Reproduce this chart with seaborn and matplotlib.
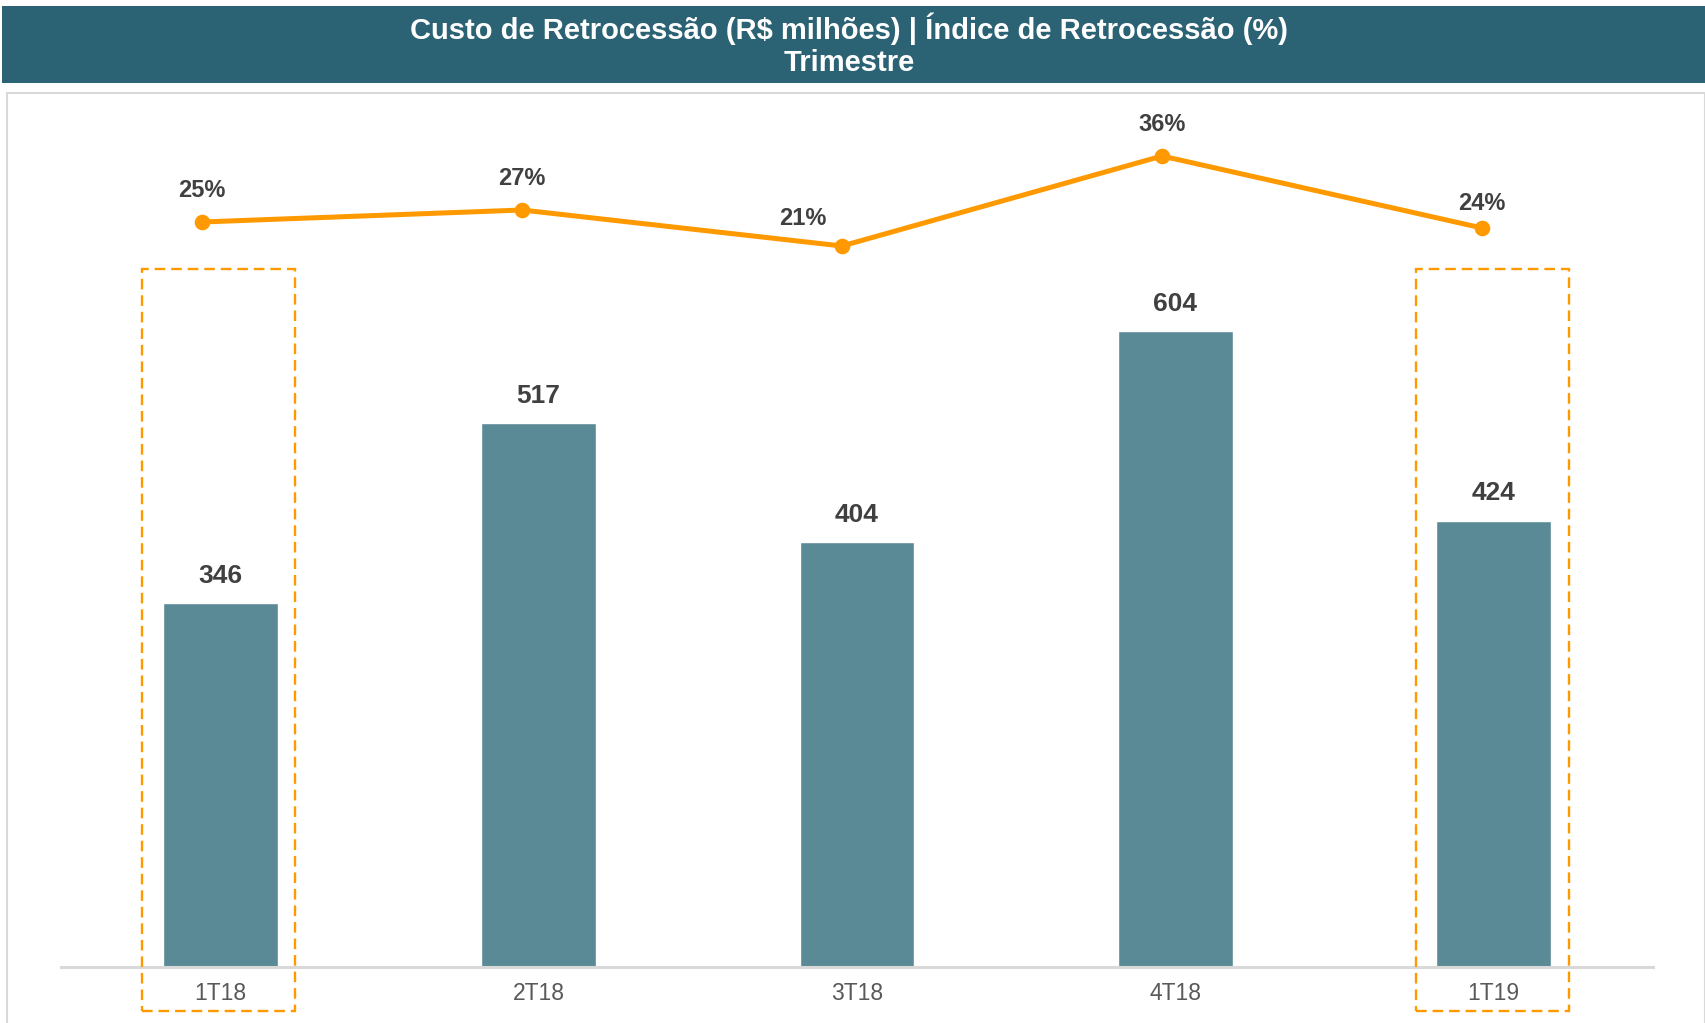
import matplotlib
matplotlib.use("Agg")
import matplotlib.pyplot as plt
import seaborn as sns
from matplotlib.patches import Rectangle
from matplotlib.transforms import blended_transform_factory

# data
quarters = ["1T18", "2T18", "3T18", "4T18", "1T19"]
custo = [346, 517, 404, 604, 424]          # R$ milhões
indice = [25, 27, 21, 36, 24]              # %
highlighted = ["1T18", "1T19"]

title_lines = ["Custo de Retrocessão (R$ milhões) | Índice de Retrocessão (%)", "Trimestre"]

BAR = "#5A8A95"
ORANGE = "#FF9900"
HEADER = "#2B6375"
GRID = "#D9D9D9"
TXT = "#404040"

sns.set_theme(style="white")
plt.rcParams["font.family"] = ["Liberation Sans", "DejaVu Sans"]

W, H = 1706, 1023
fig = plt.figure(figsize=(W / 100, H / 100), dpi=100)


def fx(px):
    return px / W


def fy(py):
    return 1 - py / H


# header band and panel border
fig.patches.append(Rectangle((fx(2), fy(83)), 1, fy(6) - fy(83), transform=fig.transFigure,
                             facecolor=HEADER, edgecolor="none", zorder=0))
fig.patches.append(Rectangle((fx(7), fy(1030)), fx(1705) - fx(7), fy(93) - fy(1030),
                             transform=fig.transFigure, facecolor="none", edgecolor=GRID,
                             linewidth=1.5, zorder=0))
fig.text(fx(849), fy(29), title_lines[0], ha="center", va="center", color="white",
         fontsize=21, fontweight="bold")
fig.text(fx(849), fy(63), title_lines[1], ha="center", va="center", color="white",
         fontsize=21, fontweight="bold")

# bars
ax = fig.add_axes([fx(61), fy(967), fx(1653) - fx(61), fy(100) - fy(967)])
sns.barplot(x=quarters, y=custo, color=BAR, width=0.36, saturation=1, ax=ax)
ax.set_xlim(-0.5, len(quarters) - 0.5)
ax.set_ylim(0, (967 - 100) / 1.053)
ax.set_yticks([])
ax.set_xlabel("")
ax.set_ylabel("")
for s in ["top", "left", "right"]:
    ax.spines[s].set_visible(False)
ax.spines["bottom"].set_color(GRID)
ax.spines["bottom"].set_linewidth(2.2)
ax.tick_params(axis="x", length=0, pad=11, labelsize=16.5, labelcolor="#595959")
ax.patch.set_alpha(0)

for i, v in enumerate(custo):
    ax.annotate(f"{v}", (i, v), xytext=(0, 19.5), textcoords="offset points",
                ha="center", va="center", fontsize=19, fontweight="bold", color=TXT)

# dashed highlight boxes
trans = blended_transform_factory(ax.transData, fig.transFigure)
for q in highlighted:
    i = quarters.index(q)
    box = Rectangle((i - 0.245, fy(1011)), 0.48, fy(269) - fy(1011), transform=trans,
                    facecolor="none", edgecolor=ORANGE, linewidth=1.7,
                    linestyle=(0, (4.5, 2.5)), clip_on=False, zorder=5)
    fig.patches.append(box)

# line
lax = fig.add_axes([fx(42), fy(372), (1642 - 42) / W, (372 - 102) / H])
sns.pointplot(x=quarters, y=indice, color=ORANGE, markers="o", markersize=8.5,
              linewidth=3.6, ax=lax)
lax.set_xlim(-0.5, len(quarters) - 0.5)
lax.set_ylim(0, 45)
lax.axis("off")
offsets = [(0, 23), (0, 23), (-28, 20), (0, 23), (0, 18)]
for i, v in enumerate(indice):
    lax.annotate(f"{v}%", (i, v), xytext=offsets[i], textcoords="offset points",
                 ha="center", va="center", fontsize=17, fontweight="bold", color=TXT)

fig.savefig("out.png", dpi=100, facecolor="white")
